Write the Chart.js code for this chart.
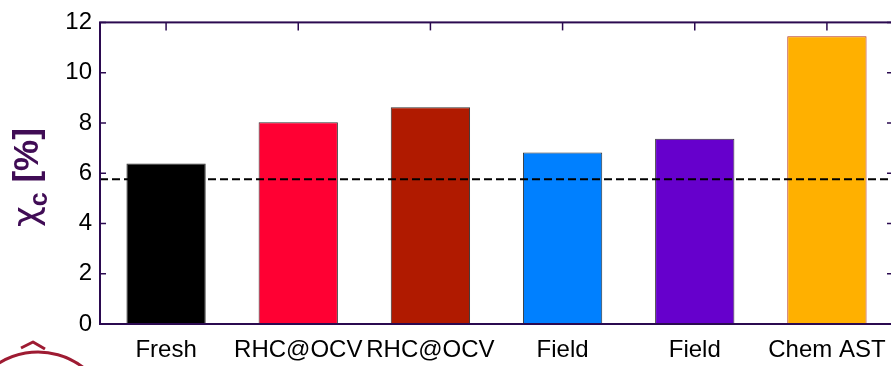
<!DOCTYPE html>
<html>
<head>
<meta charset="utf-8">
<script src="https://cdn.jsdelivr.net/npm/chart.js@4/dist/chart.umd.min.js"></script>
<style>
  html, body { margin: 0; padding: 0; background: #fff; overflow: hidden; }
  #wrap { width: 900px; height: 366px; }
</style>
</head>
<body>
<div id="wrap"><canvas id="chi" width="900" height="366"></canvas></div>
<script>
// Crystallinity per membrane condition
const categories = ['Fresh', 'RHC@OCV', 'RHC@OCV', 'Field', 'Field', 'Chem AST'];
const chiValues = [6.39, 8.03, 8.62, 6.82, 7.37, 11.45];
const barColors = ['#000000', '#ff0033', '#b01a00', '#0080ff', '#6600cc', '#ffb000'];
const edgeColors = ['#333333', '#333333', '#333333', '#333333', '#333333', '#b5301a'];
const yTicks = [0, 2, 4, 6, 8, 10, 12];
const referenceLevel = 5.76;

const frameColor = '#2b0a50';
const axisFont = '"Liberation Sans", Arial, sans-serif';

// frame, inward ticks, dashed reference line, axis title with subscript
const decorations = {
    id: 'decorations',
    afterDatasetsDraw(chart) {
        const { ctx, chartArea: a, scales } = chart;
        const y = scales.y, x = scales.x;
        ctx.save();

        // dashed reference line
        const yr = y.getPixelForValue(referenceLevel);
        ctx.strokeStyle = '#000';
        ctx.lineWidth = 2;
        ctx.setLineDash([8, 4]);
        ctx.beginPath();
        ctx.moveTo(a.left, yr);
        ctx.lineTo(a.right, yr);
        ctx.stroke();
        ctx.setLineDash([]);

        // frame
        ctx.strokeStyle = frameColor;
        ctx.lineWidth = 2;
        ctx.strokeRect(a.left, a.top, a.right - a.left, a.bottom - a.top);

        // inward ticks
        ctx.lineWidth = 1.5;
        yTicks.forEach(v => {
            const p = y.getPixelForValue(v);
            ctx.beginPath();
            ctx.moveTo(a.left, p); ctx.lineTo(a.left + 6, p);
            ctx.moveTo(a.right, p); ctx.lineTo(a.right - 6, p);
            ctx.stroke();
        });
        categories.forEach((c, i) => {
            const p = x.getPixelForValue(i);
            ctx.beginPath();
            ctx.moveTo(p, a.top); ctx.lineTo(p, a.top + 8);
            ctx.stroke();
        });

        // y axis title: chi_c [%]
        ctx.fillStyle = '#400c55';
        ctx.translate(38, 227);
        ctx.rotate(-Math.PI / 2);
        ctx.textBaseline = 'alphabetic';
        ctx.textAlign = 'left';
        ctx.font = '36px "DejaVu Sans", sans-serif';
        ctx.fillText('χ', 0, 0);
        let w = ctx.measureText('χ').width;
        ctx.font = 'bold 25px ' + axisFont;
        ctx.fillText('c', w, 9);
        w += ctx.measureText('c').width;
        ctx.font = 'bold 35px ' + axisFont;
        ctx.fillText(' [%]', w, 0);
        ctx.restore();

        // logo fragment bottom-left
        ctx.save();
        ctx.strokeStyle = '#9e1b32';
        ctx.lineWidth = 3;
        ctx.beginPath();
        ctx.ellipse(38, 440, 80, 88, 0, Math.PI * 1.2, Math.PI * 1.78);
        ctx.stroke();
        ctx.lineJoin = 'round';
        ctx.beginPath();
        ctx.moveTo(21, 348); ctx.lineTo(33, 342); ctx.lineTo(45, 349);
        ctx.stroke();
        ctx.restore();
    }
};

new Chart(document.getElementById('chi'), {
    type: 'bar',
    data: {
        labels: categories,
        datasets: [{
            data: chiValues,
            backgroundColor: barColors,
            borderColor: edgeColors,
            borderWidth: 1,
            barPercentage: 0.6,
            categoryPercentage: 1.0
        }]
    },
    options: {
        responsive: false,
        animation: false,
        layout: { padding: { top: 19, right: 7, left: 0, bottom: 0 } },
        plugins: { legend: { display: false }, tooltip: { enabled: false } },
        scales: {
            x: {
                grid: { display: false, drawTicks: false },
                border: { display: false },
                ticks: {
                    autoSkip: false, maxRotation: 0, padding: 12,
                    color: '#000', font: { family: axisFont, size: 24 }
                },
                afterFit(s) { s.height = 42; }
            },
            y: {
                min: 0, max: 12,
                grid: { display: false, drawTicks: false },
                border: { display: false },
                ticks: {
                    stepSize: 2, padding: 8,
                    color: '#000', font: { family: axisFont, size: 24 }
                },
                afterFit(s) { s.width = 100; }
            }
        }
    },
    plugins: [decorations]
});
</script>
</body>
</html>
